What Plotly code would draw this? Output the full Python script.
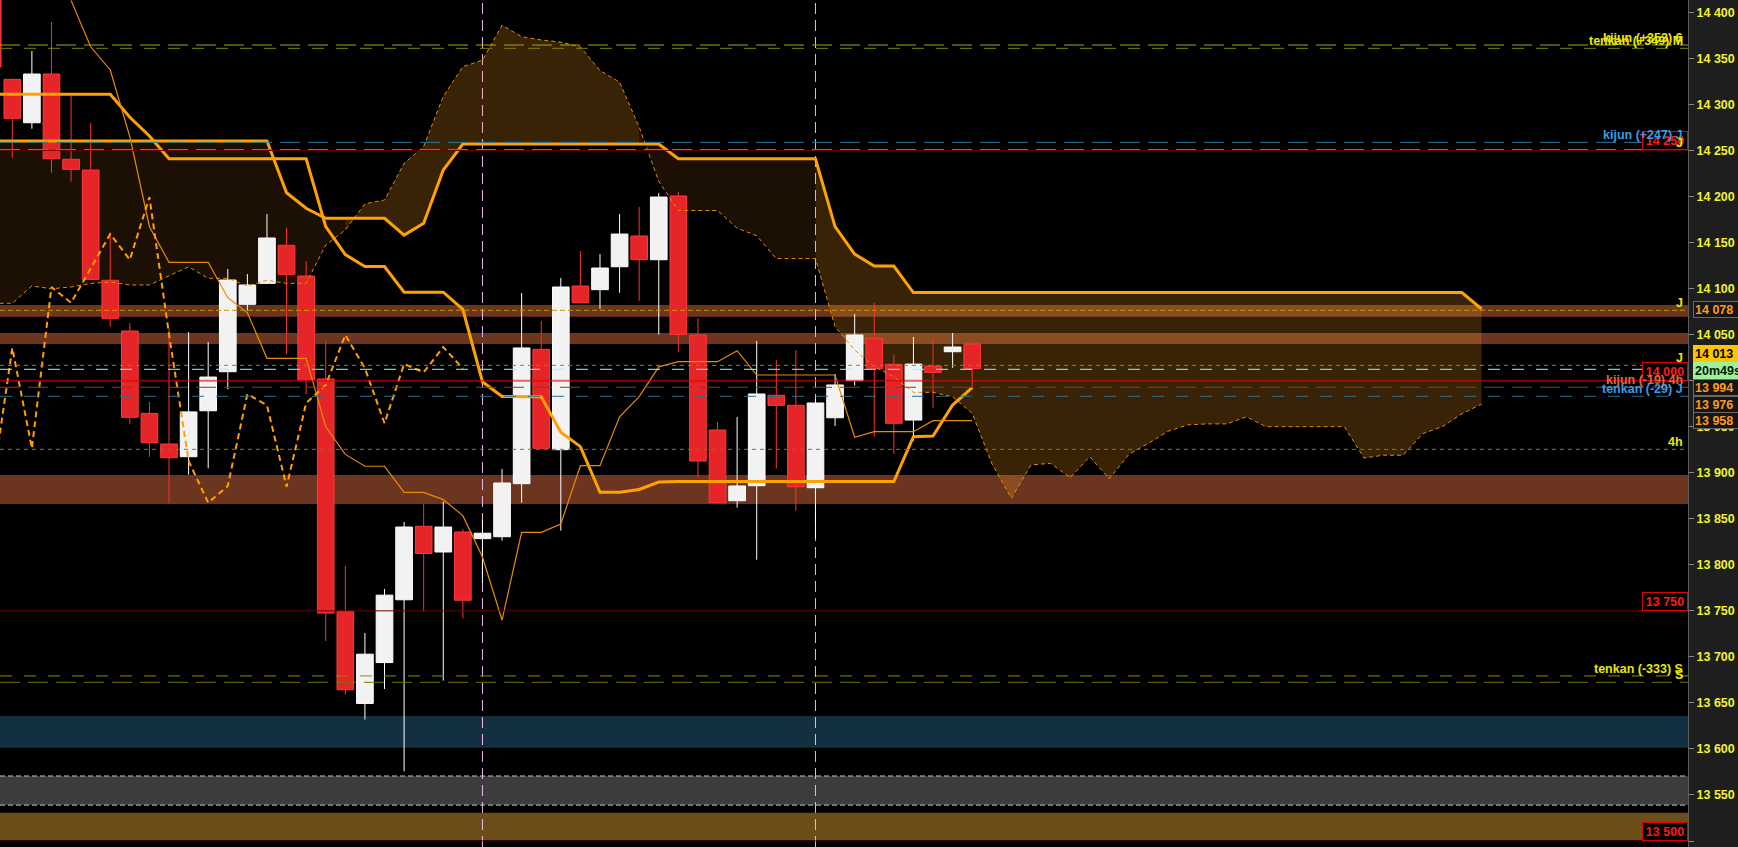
import plotly.graph_objects as go

# ---- price bars (bar -1 is the one cut off at the left edge) ----
bar_idx = list(range(-1, 50))
opens = [14470.0, 14327.2, 14280.1, 14333.0, 14240.4, 14228.7, 14109.0, 14053.9, 13964.5, 13931.2,
         13917.4, 13967.3, 14009.7, 14082.9, 14105.7, 14147.0, 14113.6, 14001.8, 13749.5, 13649.4,
         13693.8, 13762.0, 13841.8, 13813.9, 13835.6, 13828.4, 13830.5, 13888.1, 14034.0, 13925.0,
         14102.8, 14098.8, 14123.7, 14157.1, 14131.3, 14200.5, 14049.6, 13946.4, 13869.6, 13885.9,
         13984.1, 13973.2, 13883.7, 13959.7, 14000.0, 14046.0, 14017.7, 13957.2, 14015.9, 14031.4,
         14039.8]
highs = [14480.0, 14328.0, 14358.0, 14389.5, 14309.4, 14279.8, 14159.0, 14062.6, 13977.1, 14056.8,
         14052.8, 14042.0, 14121.2, 14115.8, 14181.0, 14165.8, 14129.9, 14043.0, 13798.7, 13726.0,
         13773.7, 13846.5, 13866.7, 13868.7, 13838.9, 13848.8, 13904.0, 14095.2, 14064.8, 14111.5,
         14140.8, 14137.5, 14181.0, 14188.6, 14203.8, 14204.9, 14068.0, 13955.1, 13960.5, 14043.0,
         14022.4, 14033.3, 13980.0, 14007.2, 14072.4, 14084.3, 14027.8, 14047.4, 14044.1, 14051.7,
         14042.0]
lows = [14330.0, 14242.1, 14273.6, 14225.8, 14216.0, 14109.5, 14058.6, 13952.9, 13917.4, 13866.8,
        13897.8, 13904.8, 13990.6, 14076.0, 14105.0, 14028.6, 13985.5, 13717.2, 13658.9, 13631.9,
        13665.1, 13575.7, 13749.0, 13674.2, 13741.6, 13780.6, 13826.2, 13867.4, 13925.4, 13837.0,
        14084.0, 14078.1, 14095.5, 14086.8, 14049.9, 14031.4, 13894.6, 13867.0, 13862.0, 13805.5,
        13904.4, 13858.7, 13828.8, 13950.7, 13994.5, 13939.1, 13920.6, 13934.8, 13970.6, 14014.0,
        13991.7]
closes = [14340.6, 14284.9, 14333.0, 14241.0, 14229.5, 14110.0, 14067.7, 13960.2, 13932.6, 13916.3,
          13966.0, 14003.9, 14109.3, 14103.9, 14154.9, 14115.5, 14000.9, 13747.6, 13664.2, 13702.9,
          13767.0, 13841.0, 13812.3, 13841.0, 13761.5, 13834.3, 13888.8, 14035.5, 13926.5, 14101.7,
          14084.6, 14122.3, 14159.2, 14131.3, 14199.4, 14050.3, 13912.7, 13867.4, 13885.6, 13985.5,
          13973.2, 13884.8, 13975.7, 13995.3, 14049.6, 14013.4, 13953.7, 14018.0, 14009.0, 14036.5,
          14013.0]

# ---- ichimoku, same bars as above ----
tenkan = [None, None, None, None, 14413.0, 14362.6, 14337.4, 14264.9, 14167.2, 14128.5,
          14128.5, 14128.5, 14090.1, 14073.8, 14024.2, 14024.2, 14024.2, 13949.9, 13919.9, 13907.0,
          13907.0, 13878.7, 13878.7, 13870.8, 13853.4, 13808.5, 13740.0, 13835.3, 13835.3, 13844.3,
          13907.6, 13907.6, 13960.8, 13982.6, 14015.0, 14020.6, 14020.6, 14020.6, 14032.5, 14006.1,
          14006.1, 14006.1, 14006.1, 14006.1, 13938.5, 13944.6, 13944.6, 13944.6, 13956.5, 13956.5,
          13956.5]
kijun = [14311.0, 14311.0, 14311.0, 14311.0, 14311.0, 14311.0, 14311.0, 14286.0, 14265.7, 14241.0,
         14241.0, 14241.0, 14241.0, 14241.0, 14241.0, 14241.0, 14241.0, 14167.2, 14136.9, 14124.0,
         14124.0, 14096.1, 14096.1, 14096.1, 14077.4, 13998.8, 13982.8, 13982.6, 13982.6, 13943.9,
         13928.3, 13878.7, 13878.7, 13881.8, 13889.9, 13890.4, 13890.4, 13890.4, 13890.4, 13890.4,
         13890.4, 13890.4, 13890.4, 13890.4, 13890.4, 13890.4, 13890.4, 13939.1, 13939.9, 13973.5,
         13992.3]
chikou_shift = 26

# senkou spans, bars -1 .. 75 (26 bars ahead)
span_idx = list(range(-1, 76))
span_a = [14084.0, 14084.0, 14102.8, 14099.8, 14101.7, 14105.5, 14107.1, 14103.9, 14103.9, 14113.6,
          14123.7, 14111.1, 14111.1, 14102.8, 14109.0, 14105.7, 14105.7, 14147.3, 14163.6, 14192.0,
          14196.2, 14236.0, 14254.4, 14308.7, 14341.0, 14348.0, 14386.0, 14373.6, 14370.0, 14367.7,
          14362.5, 14336.8, 14324.2, 14275.5, 14216.5, 14184.8, 14184.8, 14184.8, 14165.6, 14157.4,
          14132.6, 14132.6, 14132.6, 14058.6, 14033.3, 14015.1, 14004.3, 13987.3, 13987.3, 13982.5,
          13964.5, 13910.2, 13872.2, 13908.4, 13910.2, 13894.6, 13917.4, 13893.4, 13920.0, 13932.0,
          13945.0, 13952.0, 13953.0, 13953.0, 13960.7, 13950.0, 13950.0, 13950.0, 13950.0, 13950.0,
          13916.0, 13919.0, 13919.0, 13942.5, 13950.0, 13964.0, 13974.5]
span_b = [14260.3, 14260.3, 14260.3, 14260.3, 14260.3, 14260.3, 14260.3, 14260.3, 14260.3, 14260.3,
          14260.3, 14260.3, 14260.3, 14260.3, 14260.3, 14204.1, 14187.2, 14176.3, 14176.3, 14176.3,
          14176.3, 14158.1, 14171.0, 14228.7, 14257.0, 14257.0, 14257.0, 14257.0, 14257.0, 14257.0,
          14257.0, 14257.0, 14257.0, 14257.0, 14257.0, 14241.0, 14241.0, 14241.0, 14241.0, 14241.0,
          14241.0, 14241.0, 14241.0, 14167.2, 14137.5, 14124.5, 14124.5, 14095.7, 14095.7, 14095.7,
          14095.7, 14095.7, 14095.7, 14095.7, 14095.7, 14095.7, 14095.7, 14095.7, 14095.7, 14095.7,
          14095.7, 14095.7, 14095.7, 14095.7, 14095.7, 14095.7, 14095.7, 14095.7, 14095.7, 14095.7,
          14095.7, 14095.7, 14095.7, 14095.7, 14095.7, 14095.7, 14077.8]
# cloud pieces (first bar, last bar, dark?)
cloud_parts = [(-1, 17, True), (17, 32, False), (32, 41, True), (41, 75, False)]

# ---- zones and levels ----
zone_lo = [14069.4, 14039.8, 13866.1, 13601.4, 13539.0, 13501.1]
zone_hi = [14082.1, 14051.7, 13897.5, 13635.8, 13570.6, 13530.8]
zone_col = ["#6b3520", "#6b3520", "#6b3520", "#12303f", "#3c3c3c", "#6b4e1a"]

level_val = [14364.5, 14360.9, 14258.8, 14251.0, 14076.4, 14016.6, 14012.3, 13992.8, 13983.0,
             13925.4, 13679.3, 13672.4, 13570.6, 13539.0]
level_col = ["#a8a800", "#7c7c00", "#2a7898", "#8a8a00", "#c09a00", "#8c8c00", "#80ffff", "#8b3a2a",
             "#2a7090", "#808000", "#8a8a00", "#747400", "#c8c8c8", "#c8c8c8"]
level_dash = ["20px,8px", "12px,12px", "20px,8px", "20px,8px", "5px,3px", "4px,4px", "12px,12px",
              "20px,8px", "12px,12px", "4px,4px", "12px,12px", "20px,8px", "5px,3px", "5px,3px"]

round_levels = [14250, 14000, 13750, 13500]
round_text = ["14 250", "14 000", "13 750", "13 500"]

line_tags = ["kijun (+353) 6", "tenkan (+349) M", "kijun (+247) J", "J", "J", "J",
             "kijun (-19) 4h", "tenkan (-29) J", "4h", "tenkan (-333) S", "S"]
line_tag_y = [14364.5, 14360.9, 14258.8, 14251.0, 14076.4, 14016.6, 13992.8, 13983.0, 13925.4,
              13679.3, 13672.4]
line_tag_col = ["#e8e800", "#e8e800", "#3a9be0", "#e8e800", "#e8e800", "#e8e800", "#e8643c",
                "#3a9be0", "#e8e800", "#e8e800", "#e8e800"]

axis_tags = ["14 078", "14 013", "20m49s", "13 994", "13 976", "13 958"]
axis_tag_y = [14077.2, 14030.0, 14011.0, 13992.5, 13974.6, 13957.0]

day_marks = [24, 41]
day_col = ["#f0b8f0", "#ffc850"]

Y_MIN, Y_MAX = 13493.5, 14413.4
FONT = "Liberation Sans"

fig = go.Figure()

# candles: wicks then bodies
up = [k for k in range(len(bar_idx)) if closes[k] >= opens[k]]
dn = [k for k in range(len(bar_idx)) if closes[k] < opens[k]]
fig.add_trace(go.Bar(x=[bar_idx[k] for k in up], base=[opens[k] for k in up],
                     y=[closes[k] - opens[k] for k in up], width=0.85, opacity=1,
                     marker=dict(color="#f2f2f2", line=dict(color="#ffffff", width=1))))
fig.add_trace(go.Bar(x=[bar_idx[k] for k in dn], base=[closes[k] for k in dn],
                     y=[opens[k] - closes[k] for k in dn], width=0.85, opacity=1,
                     marker=dict(color="#e52528", line=dict(color="#ff3a3a", width=1))))
for ks, col in ((up, "#ffffff"), (dn, "#ff3030")):
    wx, wy = [], []
    for k in ks:
        top = max(opens[k], closes[k])
        bot = min(opens[k], closes[k])
        wx += [bar_idx[k], bar_idx[k], None, bar_idx[k], bar_idx[k], None]
        wy += [highs[k], top, None, bot, lows[k], None]
    fig.add_trace(go.Scatter(x=wx, y=wy, mode="lines", line=dict(color=col, width=1),
                             hoverinfo="skip"))

# ichimoku lines
fig.add_trace(go.Scatter(x=span_idx, y=span_a, mode="lines",
                         line=dict(color="#e68a00", width=1, dash="4px,3px")))
fig.add_trace(go.Scatter(x=span_idx, y=span_b, mode="lines",
                         line=dict(color="#ffa200", width=3)))
fig.add_trace(go.Scatter(x=bar_idx, y=kijun, mode="lines",
                         line=dict(color="#ffa200", width=3)))
fig.add_trace(go.Scatter(x=bar_idx, y=tenkan, mode="lines",
                         line=dict(color="#e88c00", width=1.2)))
ch = [k for k in range(len(bar_idx)) if bar_idx[k] - chikou_shift >= -1]
fig.add_trace(go.Scatter(x=[bar_idx[k] - chikou_shift for k in ch], y=[closes[k] for k in ch],
                         mode="lines", line=dict(color="#ffa000", width=2, dash="6px,4px")))

shapes = []
for lo, hi, col in zip(zone_lo, zone_hi, zone_col):
    shapes.append(dict(type="rect", xref="paper", x0=0, x1=1, yref="y", y0=lo, y1=hi,
                       fillcolor=col, line=dict(width=0), layer="below"))
# cloud as path shapes so it sits under the candles but over the zones
for a, b, dark in cloud_parts:
    i0, i1 = span_idx.index(a), span_idx.index(b)
    pts = [(span_idx[j], span_a[j]) for j in range(i0, i1 + 1)]
    pts += [(span_idx[j], span_b[j]) for j in range(i1, i0 - 1, -1)]
    path = "M " + " L ".join(f"{x},{y}" for x, y in pts) + " Z"
    shapes.append(dict(type="path", xref="x", yref="y", path=path, line=dict(width=0),
                       fillcolor="rgba(255,150,50,0.11)" if dark else "rgba(255,160,30,0.22)",
                       layer="below"))
for x, col in zip(day_marks, day_col):
    shapes.append(dict(type="line", xref="x", x0=x, x1=x, yref="paper", y0=0, y1=1,
                       line=dict(color=col, width=1, dash="11px,6px"), layer="below"))
for v, col, d in zip(level_val, level_col, level_dash):
    shapes.append(dict(type="line", xref="paper", x0=0, x1=1, yref="y", y0=v, y1=v,
                       line=dict(color=col, width=1, dash=d), layer="above"))
for v in round_levels:
    shapes.append(dict(type="line", xref="paper", x0=0, x1=1, yref="y", y0=v, y1=v,
                       line=dict(color="rgba(230,0,0,0.6)" if v == 14000 else "#6e0000",
                                 width=2 if v == 14000 else 1), layer="above"))

ann = []
for v, t in zip(round_levels, round_text):
    ann.append(dict(xref="paper", x=1, xanchor="right", yref="y", y=v, yanchor="bottom",
                    text=t, showarrow=False, bgcolor="#000000", bordercolor="#e00000",
                    borderwidth=1, borderpad=1, width=42, height=15,
                    font=dict(family=FONT, size=12.5, color="#ff1a1a", weight="bold")))
for t, v, col in zip(line_tags, line_tag_y, line_tag_col):
    ann.append(dict(xref="paper", x=0.9976, xanchor="right", yref="y", y=v, yanchor="bottom",
                    text=t, showarrow=False, borderpad=0, yshift=-1,
                    font=dict(family=FONT, size=12.5, color=col, weight="bold")))
for t, v in zip(axis_tags, axis_tag_y):
    if t == "14 013":
        bg, fg, bc = "#ffc400", "#000000", "#ffc400"
    elif t == "20m49s":
        bg, fg, bc = "#9ef09e", "#002000", "#9ef09e"
    else:
        bg, fg, bc = "#161616", "#ff9a1a", "#6a6a6a"
    ann.append(dict(xref="paper", x=1.003, xanchor="left", yref="y", y=v, yanchor="middle",
                    text=t, showarrow=False, bgcolor=bg, bordercolor=bc, borderwidth=1,
                    borderpad=1, width=44, height=13, align="left",
                    font=dict(family=FONT, size=12.5, color=fg, weight="bold")))

fig.update_layout(
    width=1738, height=847,
    margin=dict(l=0, r=50, t=0, b=0),
    paper_bgcolor="#1e1e1e", plot_bgcolor="#000000",
    showlegend=False, hovermode=False, barmode="overlay",
    separators=". ",
    shapes=shapes, annotations=ann,
    xaxis=dict(visible=False, range=[-0.628, 85.54], fixedrange=True),
    yaxis=dict(side="right", range=[Y_MIN, Y_MAX], dtick=50, tick0=13500, tickformat=",d",
               showgrid=False, zeroline=False, ticks="outside", ticklen=5, tickcolor="#8a8a8a",
               showline=True, linecolor="#5a5a5a", linewidth=1,
               tickfont=dict(family=FONT, size=12.5, color="#f2f230", weight="bold")),
)

fig.write_html("out.html", config={"displayModeBar": False},
               post_script="document.body.style.margin='0';document.body.style.overflow='hidden';")
